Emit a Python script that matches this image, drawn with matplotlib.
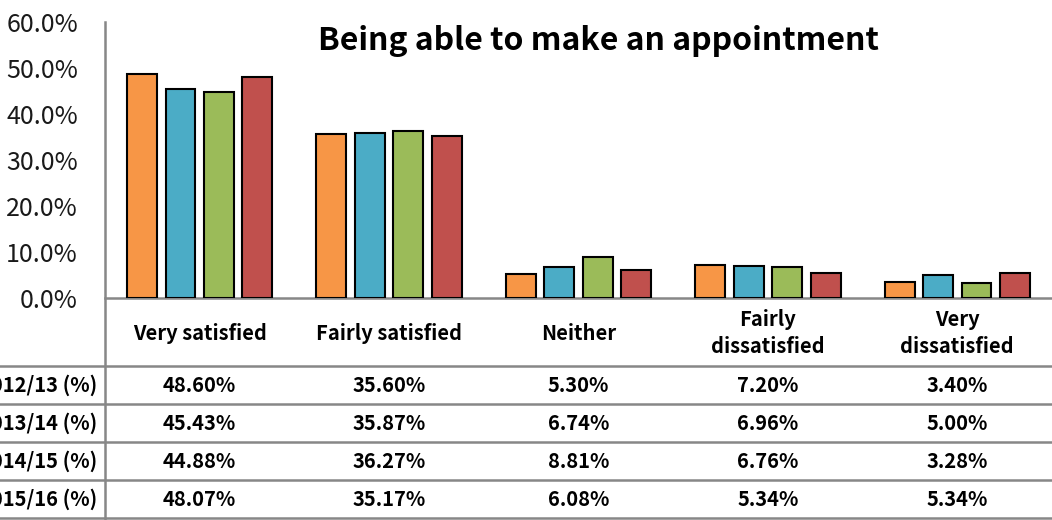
import matplotlib
matplotlib.use("Agg")
import matplotlib.pyplot as plt
import numpy as np
from matplotlib.transforms import blended_transform_factory
from matplotlib.lines import Line2D

categories = ["Very satisfied", "Fairly satisfied", "Neither",
              "Fairly\ndissatisfied", "Very\ndissatisfied"]
years = ["2012/13 (%)", "2013/14 (%)", "2014/15 (%)", "2015/16 (%)"]
y2012 = [48.60, 35.60, 5.30, 7.20, 3.40]
y2013 = [45.43, 35.87, 6.74, 6.96, 5.00]
y2014 = [44.88, 36.27, 8.81, 6.76, 3.28]
y2015 = [48.07, 35.17, 6.08, 5.34, 5.34]
series = [y2012, y2013, y2014, y2015]
colors = ["#F79646", "#4BACC6", "#9BBB59", "#C0504D"]

plt.rcParams['font.family'] = ['Noto Sans CJK SC', 'DejaVu Sans']

W, H = 1052, 520
fig = plt.figure(figsize=(W / 100, H / 100), dpi=100)
ax = fig.add_axes([105 / W, (H - 298) / H, (W - 105) / W, 276 / H])

x = np.arange(len(categories))
step = 0.203
width = 0.158
for i, (vals, c) in enumerate(zip(series, colors)):
    ax.bar(x + (i - 1.5) * step, np.array(vals) / 100, width=width,
           color=c, edgecolor="black", linewidth=1.5, zorder=3)

ax.set_xlim(-0.5, len(categories) - 0.5)
ax.set_ylim(0, 0.6)
ax.set_yticks(np.arange(0, 0.61, 0.1))
ax.set_yticklabels([f"{v * 100:.1f}%" for v in np.arange(0, 0.61, 0.1)],
                   fontsize=18, color="#1a1a1a")
ax.tick_params(axis="y", length=0, pad=19.5)
ax.set_xticks([])
for s in ["top", "right"]:
    ax.spines[s].set_visible(False)
ax.spines["left"].set_visible(False)
ax.spines["bottom"].set_color("#878787")
ax.spines["bottom"].set_linewidth(1.8)

fig.text(598 / W, 1 - 41 / H, "Being able to make an appointment",
         ha="center", va="center", fontsize=23, fontweight="bold")

# table below the chart
grey = "#878787"
fig.add_artist(Line2D([105 / W, 105 / W], [0, 1 - 22 / H],
                      transform=fig.transFigure, color=grey, lw=1.8))
row_lines = [366, 404, 442, 480, 518]
for yl in row_lines:
    fig.add_artist(Line2D([0, 1], [1 - yl / H, 1 - yl / H],
                          transform=fig.transFigure, color=grey, lw=1.8))

tr = blended_transform_factory(ax.transData, fig.transFigure)
for j, cat in enumerate(categories):
    ax.text(j, 1 - 333 / H, cat, transform=tr, ha="center", va="center",
            fontsize=14.5, fontweight="bold", linespacing=1.35)
for r, (label, vals) in enumerate(zip(years, series)):
    yc = 1 - (row_lines[r] + 19) / H
    fig.text(97 / W, yc, label, ha="right", va="center",
             fontsize=14.5, fontweight="bold")
    for j, v in enumerate(vals):
        ax.text(j, yc, f"{v:.2f}%", transform=tr, ha="center", va="center",
                fontsize=14.5, fontweight="bold")

fig.savefig("out.png", dpi=100)
